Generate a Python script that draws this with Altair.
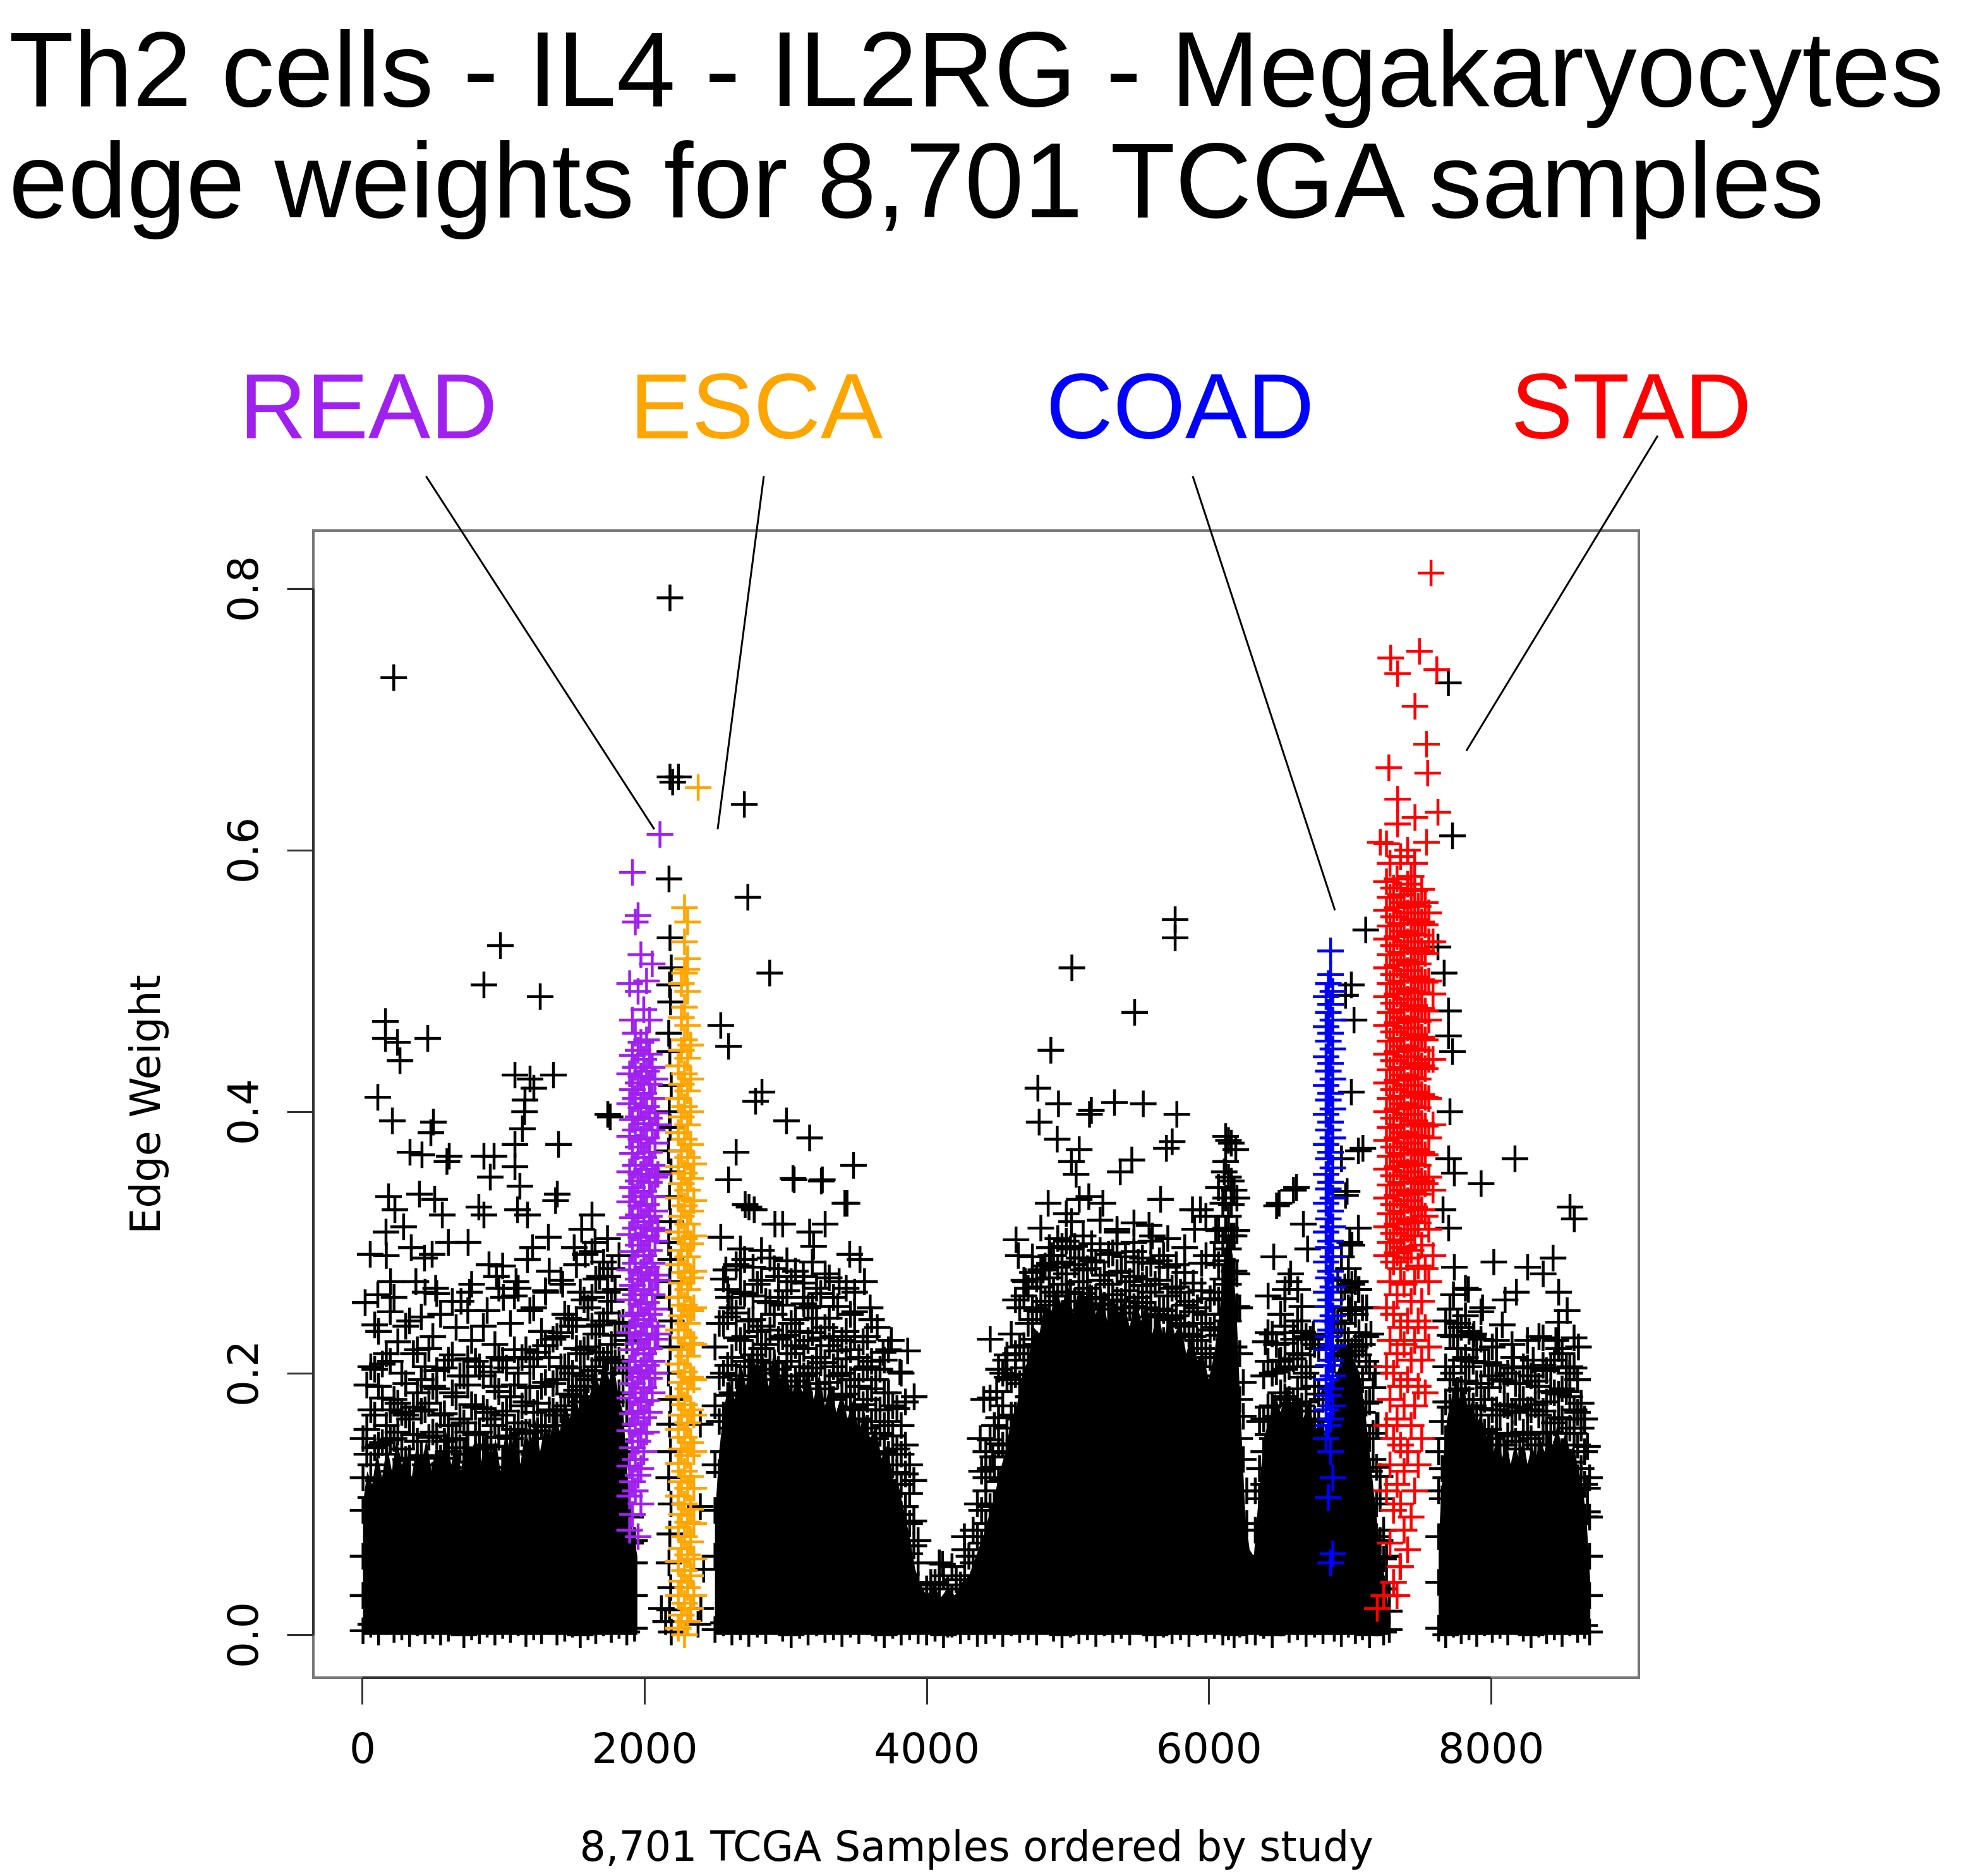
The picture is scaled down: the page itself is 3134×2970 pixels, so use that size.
import altair as alt
import pandas as pd

TITLE_1 = "Th2 cells - IL4 - IL2RG - Megakaryocytes"
TITLE_2 = "edge weights for 8,701 TCGA samples"
X_TITLE = "8,701 TCGA Samples ordered by study"
Y_TITLE = "Edge Weight"
X_TICKS = [0, 2000, 4000, 6000, 8000]
Y_TICKS = [0.0, 0.2, 0.4, 0.6, 0.8]

STUDIES = ["other", "READ", "ESCA", "COAD", "STAD"]
COLORS = ["#000000", "#A020F0", "#FFA500", "#0000FF", "#FF0000"]

# ---- solid core of the black cloud (rough top edge) ----
core_a_x = [5, 35, 70, 105, 140, 175, 210, 245, 280, 315, 350, 385, 420, 455, 490, 525, 560, 595, 630, 665,
            700, 735, 770, 805, 840, 875, 910, 945, 980, 1015, 1050, 1085, 1120, 1155, 1190, 1225, 1260, 1295,
            1330, 1365, 1400, 1435, 1470, 1505, 1540, 1575, 1610, 1645, 1680, 1715, 1750, 1785, 1820, 1850,
            1875, 1900, 1925, 1950]
core_a_y = [.10, .125, .115, .14, .12, .145, .125, .15, .13, .14, .12, .145, .13, .15, .125, .145, .135, .155,
            .13, .15, .125, .155, .14, .15, .13, .155, .135, .15, .125, .155, .14, .16, .13, .155, .145, .165,
            .14, .16, .15, .175, .155, .18, .165, .185, .17, .195, .18, .205, .19, .215, .195, .205, .18, .17,
            .13, .09, .075, .06]

core_b_x = [2500, 2530, 2560, 2600, 2640, 2680, 2720, 2760, 2800, 2840, 2880, 2920, 2960, 3000, 3040, 3080,
            3120, 3160, 3200, 3240, 3280, 3320, 3360, 3400, 3440, 3480, 3520, 3560, 3600, 3640, 3680, 3720,
            3760, 3800, 3840, 3880, 3920, 3950,
            4000, 4050, 4100, 4150, 4200, 4250, 4300, 4350, 4400,
            4440, 4480, 4520, 4560, 4600, 4640, 4680, 4720, 4760, 4800, 4840, 4880, 4920, 4960, 5000, 5040,
            5080, 5120, 5160, 5200, 5240, 5280, 5320, 5360, 5400, 5440, 5480, 5520, 5560, 5600, 5640, 5680,
            5720, 5760, 5800, 5840, 5880, 5920, 5960, 6000, 6040, 6080, 6110, 6140, 6170, 6200, 6230, 6260,
            6290, 6320,
            6350, 6390, 6430, 6470, 6510, 6550, 6590, 6630, 6670, 6710, 6750, 6790, 6830, 6870, 6910, 6950,
            6990, 7030, 7070, 7110, 7150, 7190, 7230, 7260, 7290]
core_b_y = [.09, .14, .17, .195, .18, .21, .19, .22, .2, .215, .19, .22, .195, .21, .18, .2,
            .185, .205, .18, .2, .175, .195, .17, .185, .165, .18, .155, .17, .15, .16, .135, .145,
            .12, .115, .095, .075, .05, .04,
            .03, .038, .028, .036, .03, .04, .045, .06, .075,
            .09, .105, .125, .14, .165, .175, .2, .21, .235, .23, .255, .245, .265, .25, .27, .245,
            .265, .255, .27, .245, .265, .24, .26, .245, .255, .235, .26, .24, .255, .23, .25, .225,
            .245, .23, .24, .215, .23, .21, .215, .195, .215, .25, .29, .31, .29, .24, .16, .09,
            .065, .06,
            .1, .15, .165, .185, .17, .19, .175, .185, .165, .18, .155, .165, .15, .175, .2, .215,
            .225, .21, .2, .17, .13, .09, .055, .035, .0]

core_f_x = [7630, 7660, 7690, 7720, 7750, 7780, 7810, 7840, 7870, 7900, 7930, 7960, 7990, 8020, 8050, 8080,
            8110, 8140, 8170, 8200, 8230, 8260, 8290, 8320, 8350, 8380, 8410, 8440, 8470, 8500, 8530, 8560,
            8590, 8620, 8650, 8680, 8705]
core_f_y = [.07, .13, .165, .18, .195, .18, .19, .17, .18, .16, .17, .15, .16, .14, .155, .135,
            .15, .13, .145, .135, .15, .13, .145, .135, .15, .14, .155, .145, .16, .145, .155, .14,
            .145, .125, .115, .085, .04]

# ---- black samples: (x, [edge weight in thousandths]) ----
a_cols = [
    (5, [3, 30, 60, 95, 120, 150]), (60, [8, 105, 130, 172, 205]), (115, [2, 118, 145, 190, 232]),
    (170, [10, 112, 138, 160, 215, 290]), (225, [4, 125, 150, 180, 258]), (280, [6, 108, 142, 170, 200]),
    (335, [1, 120, 135, 165, 240]), (390, [9, 118, 148, 185, 218]), (445, [3, 110, 130, 172, 205, 262]),
    (500, [7, 122, 155, 190, 228]), (555, [2, 118, 135, 168, 245]), (610, [5, 128, 140, 160, 210, 300]),
    (665, [11, 115, 150, 182, 235]), (720, [0, 125, 138, 162, 198]), (775, [6, 118, 132, 176, 225, 268]),
    (830, [3, 120, 142, 155, 205]), (885, [8, 110, 145, 170, 248]), (940, [2, 128, 160, 190, 222]),
    (995, [7, 115, 135, 168, 210, 282]), (1050, [4, 120, 150, 182, 238]), (1105, [9, 130, 140, 162, 200, 265]),
    (1160, [1, 125, 155, 178, 218]), (1215, [6, 120, 138, 170, 205, 250]), (1270, [3, 128, 160, 190, 232]),
    (1325, [10, 135, 150, 172, 212, 278]), (1380, [2, 140, 168, 195, 228]), (1435, [5, 148, 160, 175, 205, 245]),
    (1490, [8, 155, 182, 200, 236]), (1545, [0, 165, 178, 190, 215, 262]), (1600, [6, 170, 195, 220, 250]),
    (1655, [3, 182, 205, 230, 272]), (1710, [9, 188, 190, 210, 240, 285]), (1765, [4, 178, 200, 222, 255]),
    (1820, [7, 160, 185, 210, 238]), (1875, [2, 110, 140, 170, 200, 225]), (1930, [5, 30, 55, 72]),
    (32, [138, 157, 191]), (88, [143, 168, 203, 237]), (142, [147, 181, 207]), (198, [149, 172, 209, 247]),
    (252, [155, 177, 224]), (308, [134, 168, 192, 236]), (362, [153, 174, 215]), (418, [137, 171, 195, 243]),
    (472, [151, 177, 219]), (528, [152, 188, 202, 261]), (582, [148, 169, 204]), (638, [149, 185, 214, 255]),
    (692, [143, 165, 198]), (748, [155, 191, 211, 248]), (802, [153, 174, 209]), (858, [142, 173, 198, 236]),
    (912, [144, 165, 201]), (968, [151, 186, 212, 265]), (1022, [152, 171, 204]), (1078, [157, 191, 218, 259]),
    (1132, [154, 175, 212]), (1188, [155, 189, 211, 248]), (1242, [156, 177, 216]), (1298, [159, 193, 221, 263]),
    (1352, [171, 192, 226]), (1408, [172, 205, 231, 271]), (1462, [184, 204, 242]), (1518, [187, 219, 241, 283]),
    (1572, [198, 218, 256]), (1628, [202, 236, 258, 293]), (1682, [216, 237, 274]), (1738, [212, 246, 262, 303]),
    (1792, [208, 229, 264]), (1848, [184, 204, 239]), (1902, [70, 90]),
]
b_cols = [
    (2500, [4, 60, 95, 130, 175, 220]), (2560, [9, 140, 168, 200, 238, 272]), (2620, [2, 158, 185, 212, 250]),
    (2680, [6, 170, 195, 225, 262, 295]), (2740, [1, 178, 190, 205, 240]), (2800, [8, 185, 210, 232, 268]),
    (2860, [3, 175, 200, 222, 255]), (2920, [10, 182, 195, 208, 245, 280]), (2980, [5, 170, 198, 228, 252]),
    (3040, [0, 165, 190, 215, 238, 270]), (3100, [7, 158, 185, 205, 232]), (3160, [2, 172, 200, 225, 250]),
    (3220, [9, 168, 192, 212, 242, 265]), (3280, [4, 160, 188, 208, 235]), (3340, [6, 155, 180, 205, 228, 258]),
    (3400, [1, 158, 182, 200, 225]), (3460, [8, 148, 172, 195, 218, 245]), (3520, [3, 140, 165, 190, 212]),
    (3580, [10, 135, 158, 180, 205, 228]), (3640, [5, 125, 150, 172, 195]), (3700, [0, 118, 140, 160, 185, 210]),
    (3760, [7, 108, 130, 152, 175]), (3820, [2, 92, 115, 138, 160, 200]), (3880, [6, 62, 85, 108, 130]),
    (3940, [3, 38, 55, 72]),
    (2530, [124, 163, 197, 238]), (2590, [183, 206, 243, 264]), (2650, [198, 227, 246, 283]),
    (2710, [209, 228, 261, 287]), (2770, [214, 241, 259, 281]), (2830, [219, 236, 271, 294]),
    (2890, [208, 233, 254, 288]), (2950, [203, 226, 258, 274]), (3010, [209, 229, 263, 286]),
    (3070, [194, 221, 241, 278]), (3130, [198, 219, 253, 269]), (3190, [204, 231, 251, 285]),
    (3250, [208, 227, 261]), (3310, [193, 221, 242, 273]), (3370, [198, 217, 251]), (3430, [184, 211, 232, 265]),
    (3490, [174, 195, 228, 247]), (3550, [176, 203, 224]), (3610, [163, 188, 209, 241]), (3670, [154, 172, 203]),
    (3730, [138, 163, 185, 218]), (3790, [124, 142, 173]), (3850, [98, 123, 145, 178]), (3910, [68, 87, 118]),
]
v_cols = [
    (4000, [2, 18, 35]), (4060, [5, 22, 40]), (4120, [0, 15, 45]), (4180, [8, 28, 52]),
    (4240, [3, 20, 38]), (4300, [6, 30, 60]), (4360, [1, 45, 75, 100]),
    (4030, [10, 40]), (4090, [12, 38, 55]), (4150, [8, 35]), (4210, [15, 42]), (4270, [10, 45, 65]),
    (4330, [20, 55, 80]), (4390, [30, 70, 95, 125]),
]
c_cols = [
    (4420, [3, 85, 110, 140]), (4480, [7, 100, 128, 160]), (4540, [1, 118, 145, 175, 200]),
    (4600, [9, 140, 168, 195, 230]), (4660, [4, 165, 192, 220, 250]), (4720, [6, 182, 210, 238, 265]),
    (4780, [2, 195, 222, 248, 272]), (4840, [10, 205, 230, 255, 282]), (4900, [5, 212, 238, 262, 290]),
    (4960, [0, 220, 245, 268, 285]), (5020, [8, 215, 240, 262, 295]), (5080, [3, 222, 248, 270, 288]),
    (5140, [6, 218, 242, 265, 280]), (5200, [1, 210, 235, 258, 285]), (5260, [9, 205, 230, 252, 275]),
    (5320, [4, 212, 238, 260, 292]), (5380, [7, 208, 232, 255, 278]), (5440, [2, 200, 225, 250, 270]),
    (5500, [10, 210, 235, 258, 285]), (5560, [5, 202, 228, 250, 272]), (5620, [0, 195, 220, 245, 268]),
    (5680, [8, 200, 225, 248, 290]), (5740, [3, 192, 218, 242, 265]), (5800, [6, 188, 212, 238, 262]),
    (5860, [1, 180, 205, 230, 255]), (5920, [9, 172, 198, 225, 250]), (5980, [4, 165, 190, 215, 245]),
    (6040, [7, 175, 205, 235, 262, 290]), (6100, [2, 215, 245, 272, 300, 330]),
    (6140, [6, 240, 268, 295, 320, 350, 378]), (6180, [0, 220, 250, 278, 305, 340]),
    (6220, [8, 150, 180, 215, 250]), (6270, [3, 60, 85, 110]),
    (4450, [98, 127, 149, 181]), (4510, [117, 146, 166, 203]), (4570, [139, 158, 197, 214]),
    (4630, [168, 199, 215, 256]), (4690, [204, 221, 259, 271]), (4750, [226, 241, 277, 289]),
    (4810, [247, 266, 279, 311]), (4870, [252, 273, 296, 284]), (4930, [259, 281, 303]),
    (4990, [262, 276, 301, 322]), (5050, [255, 283, 297]), (5110, [261, 279, 305, 288]), (5170, [257, 286, 299]),
    (5230, [253, 271, 294, 317]), (5290, [249, 268, 291]), (5350, [256, 277, 299, 308]), (5410, [246, 263, 289]),
    (5470, [251, 274, 293, 315]), (5530, [254, 267, 288]), (5590, [243, 262, 284, 301]), (5650, [249, 271, 286]),
    (5710, [241, 259, 281, 303]), (5770, [244, 266, 283]), (5830, [236, 252, 277, 296]), (5890, [228, 247, 269]),
    (5950, [219, 238, 263, 284]), (6010, [212, 233, 257]), (6070, [229, 256, 283, 309]),
    (6120, [286, 311, 334, 362, 381]), (6160, [305, 329, 347, 376]), (6200, [251, 276, 309, 334]),
    (6245, [134, 167, 193]),
]
d_cols = [
    (6330, [2, 50, 80, 110]), (6390, [7, 115, 140, 165, 198]), (6450, [0, 150, 175, 200, 230]),
    (6510, [9, 160, 185, 210, 245]), (6570, [4, 155, 180, 205, 270]), (6630, [6, 162, 188, 215, 240]),
    (6690, [1, 150, 178, 200, 228]), (6750, [8, 140, 165, 190, 222]), (6810, [3, 130, 155, 180]),
    (6360, [104, 127, 163]), (6420, [153, 174, 209, 231]), (6480, [167, 201, 222]), (6540, [182, 203, 236, 257]),
    (6600, [177, 211, 231]), (6660, [175, 197, 232, 251]), (6720, [171, 205, 226]), (6780, [163, 184, 219]),
]
e_cols = [
    (6890, [5, 160, 185, 210, 240]), (6940, [1, 190, 215, 238, 262]), (6990, [8, 200, 225, 250, 280]),
    (7040, [3, 195, 220, 245, 270]), (7090, [6, 170, 195, 222, 250]), (7140, [0, 125, 150, 178, 205]),
    (7190, [9, 75, 100, 128, 160]), (7240, [2, 35, 58, 80]), (7280, [4, 18, 30]),
    (6865, [164, 184, 219]), (6915, [187, 219, 238, 271]), (6965, [213, 231, 266]), (7015, [217, 249, 268, 298]),
    (7065, [214, 231, 264]), (7115, [177, 209, 228]), (7165, [134, 154, 189]), (7215, [72, 104, 121]),
    (7260, [40, 60]),
]
f_cols = [
    (7630, [5, 40, 75, 110, 140]), (7680, [0, 120, 150, 178, 205, 240]), (7735, [8, 150, 178, 200, 228, 260]),
    (7790, [3, 160, 188, 210, 235]), (7845, [6, 155, 180, 205, 232]), (7900, [1, 142, 168, 192, 218]),
    (7955, [9, 130, 155, 180, 208]), (8010, [4, 125, 150, 172, 198]), (8065, [7, 120, 145, 168, 195]),
    (8120, [2, 128, 152, 175, 200]), (8175, [10, 122, 148, 170, 192]), (8230, [5, 130, 155, 180, 205]),
    (8285, [0, 125, 150, 172, 198]), (8340, [8, 120, 145, 168, 190]), (8395, [3, 130, 155, 178, 202]),
    (8450, [6, 138, 162, 185, 210]), (8505, [1, 140, 165, 188, 215]), (8560, [9, 132, 158, 182, 205]),
    (8615, [4, 120, 145, 170, 195]), (8665, [7, 90, 115, 140, 165]), (8700, [2, 30, 60, 90, 120]),
    (7655, [104, 127, 163]), (7710, [174, 195, 229, 249]), (7765, [187, 219, 238]), (7820, [194, 212, 244, 265]),
    (7875, [175, 209, 228]), (7930, [173, 192, 226, 247]), (7985, [157, 189, 208]), (8040, [154, 172, 206, 225]),
    (8095, [145, 176, 194]), (8150, [154, 171, 204, 222]), (8205, [142, 174, 192]), (8260, [153, 172, 204, 225]),
    (8315, [145, 176, 194]), (8370, [154, 171, 206, 227]), (8425, [155, 186, 204]), (8480, [166, 184, 219, 239]),
    (8535, [154, 186, 204]), (8590, [154, 172, 204, 227]), (8640, [127, 158, 177]), (8685, [94, 112, 144]),
]

# ---- black samples scattered above the cloud: (x, edge weight) ----
black_high = [
    (223, .732), (979, .527), (862, .497), (1261, .488), (164, .469), (164, .456), (249, .453), (267, .439),
    (464, .456), (110, .411), (213, .393), (504, .392), (486, .384), (338, .369), (423, .367), (616, .366),
    (600, .362), (862, .366), (934, .366), (907, .350), (1082, .428), (1189, .425), (1216, .418), (1355, .428),
    (1153, .409), (1150, .400), (1135, .387), (1082, .375), (1391, .375), (1082, .358), (1117, .343),
    (1382, .337), (1370, .332), (1740, .398), (1757, .396), (186, .335), (231, .325), (405, .337), (513, .333),
    (567, .321), (826, .327), (862, .321), (1100, .325), (1171, .321), (1319, .304), (1628, .321), (1555, .31),
    (56, .291), (168, .308), (293, .312), (347, .296), (441, .288), (495, .291), (750, .30), (898, .283),
    (951, .274), (1171, .287), (1207, .296), (1502, .296), (1580, .291), (1740, .274), (1770, .28), (20, .254),
    (110, .26), (200, .27), (380, .27), (520, .265), (700, .255), (760, .262), (1000, .258), (1090, .27),
    (1300, .262), (1420, .268), (1650, .30), (1820, .29),
    (2181, .793), (2181, .656), (2200, .652), (2241, .656), (2174, .578), (2181, .533), (2190, .51),
    (2178, .497), (2185, .484), (2172, .46), (2180, .446), (2190, .42), (2176, .40), (2182, .388), (2170, .37),
    (2188, .354), (2178, .335), (2184, .316), (2172, .30), (2186, .287), (2180, .27), (2176, .258), (2190, .24),
    (2182, .22), (2170, .2), (2186, .18), (2178, .161), (2184, .14), (2172, .12), (2188, .1), (2180, .077),
    (2174, .055), (2186, .036), (2178, .019), (2190, .002), (2150, .01), (2120, .02), (2396, .161),
    (2396, .098), (2420, .05), (2400, .02), (2380, .008),
    (2733, .564), (2888, .506), (2541, .466), (2596, .450), (2833, .415), (2788, .408), (3007, .393),
    (3171, .380), (2650, .369), (2596, .348), (3053, .349), (3254, .347), (3482, .359), (3436, .330),
    (2714, .329), (2778, .325), (2925, .314), (2980, .314), (3171, .308), (3281, .314), (2541, .304),
    (3199, .297), (3455, .291), (3528, .287), (2577, .279), (2680, .282), (3126, .274), (3281, .276),
    (3380, .27), (2596, .258), (3126, .258), (3490, .262), (3692, .216), (3811, .201), (3866, .217),
    (3912, .182), (2708, .635), (2741, .327), (3061, .348), (3261, .348), (3421, .33), (3600, .25),
    (3650, .235), (3750, .225), (3560, .27),
    (4268, .075), (4113, .054), (4451, .226), (4497, .186), (4405, .180), (4469, .136), (4420, .12), (4380, .15),
    (5030, .51), (4881, .447), (4789, .418), (4935, .406), (4798, .392), (4926, .379), (5155, .398),
    (5082, .371), (5027, .362), (5060, .352), (4862, .330), (5082, .333), (5150, .335), (5027, .316),
    (4634, .302), (4650, .29), (4826, .279), (4881, .29), (4960, .297), (5475, .476), (5762, .547),
    (5762, .533), (5168, .401), (5332, .407), (5536, .406), (5774, .398), (5741, .377), (5700, .372),
    (6192, .371), (6110, .354), (6069, .342), (5455, .363), (5373, .354), (5659, .333), (5885, .325),
    (5577, .313), (5250, .33), (5350, .31), (5600, .305), (5900, .31), (5980, .32), (6050, .31), (5470, .3),
    (5941, .325), (5981, .29), (4700, .27), (4750, .25), (4560, .21),
    (6601, .34), (6481, .328), (6671, .314), (6461, .289), (6701, .295), (6581, .276), (6541, .264),
    (6631, .264), (6421, .259), (6401, .224), (6541, .223), (6601, .226), (6741, .23), (6501, .209),
    (6661, .214), (6499, .33), (6622, .342),
    (7113, .539), (7011, .497), (6970, .489), (7030, .47), (7011, .415), (7093, .372), (7061, .37),
    (6941, .364), (6981, .339), (6970, .336), (7061, .311), (6941, .289), (7000, .3), (7061, .264),
    (7001, .248), (7120, .25), (7150, .23), (7180, .2), (7200, .16),
    (7699, .728), (7728, .611), (7625, .526), (7669, .506), (7700, .477), (7700, .458), (7728, .446),
    (7710, .40), (8171, .364), (7931, .345), (8561, .327), (8591, .318), (7701, .364), (7741, .353),
    (7661, .325), (7701, .311), (8021, .285), (7741, .281), (8441, .288), (8261, .281), (8371, .276),
    (7841, .264), (8101, .256), (8181, .262), (7941, .25), (8481, .262), (8541, .248), (8341, .228),
    (8461, .225), (8621, .22), (8081, .237), (8161, .212), (8010, .22), (7880, .23), (8560, .2), (8300, .21),
]

# ---- highlighted studies: (x, [edge weight in thousandths]) ----
read_cols = [
    (1895, [80, 106, 129, 156, 181, 204, 231, 256, 279, 306, 331, 354, 381, 406, 429, 498]),
    (1915, [92, 117, 143, 169, 192, 218, 244, 267, 293, 319, 342, 368, 394, 417, 443, 470, 583]),
    (1935, [110, 134, 161, 185, 209, 236, 260, 284, 311, 335, 359, 386, 410, 434, 460, 545]),
    (1955, [75, 122, 148, 171, 197, 223, 246, 272, 298, 321, 347, 373, 396, 422, 447, 492, 550]),
    (1975, [100, 127, 154, 178, 202, 229, 253, 277, 304, 328, 352, 379, 403, 427, 453, 520]),
    (1995, [140, 166, 189, 215, 241, 264, 290, 316, 339, 365, 391, 414, 440, 478]),
    (2015, [155, 179, 206, 230, 254, 281, 305, 329, 356, 380, 404, 431, 455, 500]),
    (2035, [170, 196, 219, 245, 271, 294, 320, 346, 369, 395, 421, 444, 470]),
    (2055, [185, 209, 236, 260, 284, 311, 335, 359, 386, 410, 434, 513]),
    (2075, [200, 226, 249, 275, 301, 324, 350, 376, 399, 425]),
    (2095, [230, 271, 309, 352, 390]),
    (2110, [612]),
]
esca_cols = [
    (2240, [5, 30, 56, 82, 106, 131, 157, 182, 207, 233, 258, 283, 308, 334, 358, 384, 410, 435]),
    (2262, [15, 41, 66, 92, 117, 142, 168, 193, 218, 244, 269, 294, 320, 345, 370, 396, 421, 447, 472, 498]),
    (2284, [0, 24, 49, 75, 100, 125, 151, 176, 201, 227, 252, 277, 303, 328, 353, 379, 404, 429, 455, 480,
            506, 530, 556]),
    (2306, [10, 36, 61, 86, 112, 137, 162, 188, 213, 238, 264, 289, 314, 340, 365, 390, 416, 441, 466, 492,
            517, 545]),
    (2328, [20, 45, 71, 96, 121, 147, 172, 197, 223, 248, 273, 299, 324, 349, 375, 400, 425, 451]),
    (2350, [30, 58, 85, 112, 140, 168, 195, 222, 250, 278, 305, 332, 360]),
    (2381, [648]), (2301, [509]),
]
coad_cols = [
    (6832, [150, 172, 195, 218, 240, 262, 285, 308, 330, 352, 375, 398, 420, 442, 465, 488]),
    (6848, [105, 160, 183, 206, 228, 251, 273, 296, 318, 341, 364, 386, 409, 431, 454, 476, 498]),
    (6864, [55, 140, 165, 188, 210, 233, 256, 278, 301, 324, 346, 369, 392, 414, 437, 460, 482, 505, 523]),
    (6880, [62, 120, 175, 198, 221, 244, 266, 289, 312, 334, 357, 380, 402, 425, 448, 470, 492]),
]
stad_cols = [
    (7260, [110, 160, 205, 250, 290, 312, 334, 356, 378, 400, 422, 444, 466, 488, 510, 532, 554, 576, 605]),
    (7285, [70, 130, 180, 225, 270, 300, 322, 344, 366, 388, 410, 432, 454, 476, 498, 520, 542, 564, 590]),
    (7310, [40, 95, 150, 200, 245, 285, 307, 329, 351, 373, 395, 417, 439, 461, 483, 505, 527, 549, 571]),
    (7335, [30, 115, 165, 215, 260, 292, 314, 336, 358, 380, 402, 424, 446, 468, 490, 512, 534, 556, 578]),
    (7360, [52, 100, 145, 190, 235, 280, 302, 324, 346, 368, 390, 412, 434, 456, 478, 500, 522, 544, 566, 595]),
    (7385, [80, 125, 175, 222, 268, 296, 318, 340, 362, 384, 406, 428, 450, 472, 494, 516, 538, 560]),
    (7410, [65, 140, 195, 240, 288, 310, 332, 354, 376, 398, 420, 442, 464, 486, 508, 530, 552, 574, 600]),
    (7435, [90, 160, 210, 255, 294, 316, 338, 360, 382, 404, 426, 448, 470, 492, 514, 536, 558, 580]),
    (7460, [110, 175, 225, 270, 305, 327, 349, 371, 393, 415, 437, 459, 481, 503, 525, 547, 569, 590]),
    (7485, [130, 190, 240, 282, 315, 337, 359, 381, 403, 425, 447, 469, 491, 513, 535, 557]),
    (7510, [150, 210, 255, 298, 325, 347, 369, 391, 413, 435, 457, 479, 501, 523, 545, 570]),
    (7535, [185, 235, 280, 320, 345, 367, 389, 411, 433, 455, 477, 499, 521, 543, 560]),
    (7560, [220, 270, 310, 350, 380, 410, 440, 470, 500, 530, 552]),
    (7590, [290, 340, 390, 440, 490, 530]),
    (7576, [812]), (7290, [747]), (7339, [735, 639, 620]), (7494, [752]), (7617, [738]), (7462, [710, 625]),
    (7544, [681, 606]), (7277, [663]), (7552, [659]), (7625, [629]), (7216, [606]), (7241, [30]),
    (7195, [20]), (7356, [52]),
]

# ---- annotations ----
label_text = ["READ", "ESCA", "COAD", "STAD"]
label_x = [43, 2792, 5797, 8995]
label_y = [0.915, 0.915, 0.915, 0.915]
line_x1 = [452, 2846, 5887, 9183]
line_y1 = [0.886, 0.886, 0.886, 0.917]
line_x2 = [2070, 2519, 6895, 7826]
line_y2 = [0.616, 0.616, 0.554, 0.676]

# ---- build tables ----
rows = []
for cols in (a_cols, b_cols, v_cols, c_cols, d_cols, e_cols, f_cols):
    for x, ys in cols:
        for y in ys:
            rows.append({"x": x, "y": y / 1000, "study": "other"})
for x, y in black_high:
    rows.append({"x": x, "y": y, "study": "other"})
for name, cols in (("READ", read_cols), ("ESCA", esca_cols), ("COAD", coad_cols), ("STAD", stad_cols)):
    for x, ys in cols:
        for y in ys:
            rows.append({"x": x, "y": y / 1000, "study": name})
points = pd.DataFrame(rows)

core_rows = []
for seg, xs_, ys_ in (("a", core_a_x, core_a_y), ("b", core_b_x, core_b_y), ("f", core_f_x, core_f_y)):
    for x, y in zip(xs_, ys_):
        core_rows.append({"x": x, "y": y, "y0": 0.0, "seg": seg})
core = pd.DataFrame(core_rows)

labels = pd.DataFrame({"x": label_x, "y": label_y, "text": label_text, "study": label_text})
lines = pd.DataFrame({"x": line_x1, "y": line_y1, "x2": line_x2, "y2": line_y2})

W, H = 2098, 1816
xs = alt.Scale(domain=[-347, 9049], nice=False, zero=False)
ys = alt.Scale(domain=[-0.03285, 0.84445], nice=False, zero=False)
cs = alt.Scale(domain=STUDIES, range=COLORS)

x_axis = alt.Axis(values=X_TICKS, format="d", title=X_TITLE, grid=False, domain=False,
                  tickSize=42, tickWidth=3, tickColor="#333333",
                  labelFont="DejaVu Sans", labelFontSize=66, labelColor="#000000", labelPadding=40,
                  labelFlush=False, labelOverlap=False,
                  titleFont="DejaVu Sans", titleFontSize=65, titleFontWeight="normal", titleColor="#000000",
                  titleBaseline="alphabetic", titleY=289)
y_axis = alt.Axis(values=Y_TICKS, format=".1f", title=Y_TITLE, grid=False, domain=False,
                  tickSize=42, tickWidth=3, tickColor="#333333",
                  labelFont="DejaVu Sans", labelFontSize=66, labelColor="#000000", labelPadding=47,
                  labelAngle=270, labelAlign="center", labelBaseline="alphabetic",
                  labelFlush=False, labelOverlap=False,
                  titleFont="DejaVu Sans", titleFontSize=65, titleFontWeight="normal", titleColor="#000000",
                  titleAngle=270, titleAlign="center", titleBaseline="alphabetic", titleX=-244, titleY=908)

area = alt.Chart(core).mark_area(color="#000000", interpolate="linear").encode(
    x=alt.X("x:Q", scale=xs, axis=x_axis),
    y=alt.Y("y:Q", scale=ys, axis=y_axis),
    y2=alt.Y2("y0:Q"),
    detail="seg:N",
)

pts = alt.Chart(points).mark_point(
    shape="M-1,0L1,0M0,-1L0,1", filled=False, size=1764, strokeWidth=4.5, opacity=1
).encode(
    x=alt.X("x:Q", scale=xs),
    y=alt.Y("y:Q", scale=ys),
    color=alt.Color("study:N", scale=cs, legend=None),
)

axis_dummy = pd.DataFrame({"k": [0]})
x_line = alt.Chart(axis_dummy).mark_rule(color="#333333", strokeWidth=4).encode(
    x=alt.datum(0), x2=alt.datum(8000), y=alt.value(H))
y_line = alt.Chart(axis_dummy).mark_rule(color="#333333", strokeWidth=4).encode(
    y=alt.datum(0.0), y2=alt.datum(0.8), x=alt.value(0))

ann_lines = alt.Chart(lines).mark_rule(color="#000000", strokeWidth=3).encode(
    x=alt.X("x:Q", scale=xs), y=alt.Y("y:Q", scale=ys), x2="x2:Q", y2="y2:Q")

ann_text = alt.Chart(labels).mark_text(
    font="Liberation Sans", fontSize=147, align="center", baseline="alphabetic"
).encode(
    x=alt.X("x:Q", scale=xs), y=alt.Y("y:Q", scale=ys), text="text:N",
    color=alt.Color("study:N", scale=cs, legend=None),
)

title_txt = alt.Chart(pd.DataFrame({"t": [TITLE_1 + "\n" + TITLE_2]})).mark_text(
    font="Liberation Sans", fontSize=168, align="left", baseline="alphabetic", color="#000000",
    lineBreak="\n", lineHeight=176
).encode(x=alt.value(-482), y=alt.value(-672), text="t:N")

chart = alt.layer(area, pts, x_line, y_line, ann_lines, ann_text, title_txt).properties(
    width=W, height=H,
    autosize=alt.AutoSizeParams(type="none"),
    padding={"left": 488, "top": 832, "right": 532, "bottom": 306},
    background="#ffffff",
).configure_view(stroke="#777777", strokeWidth=4)

chart.save("out.html", embed_options={"renderer": "svg", "actions": False})
